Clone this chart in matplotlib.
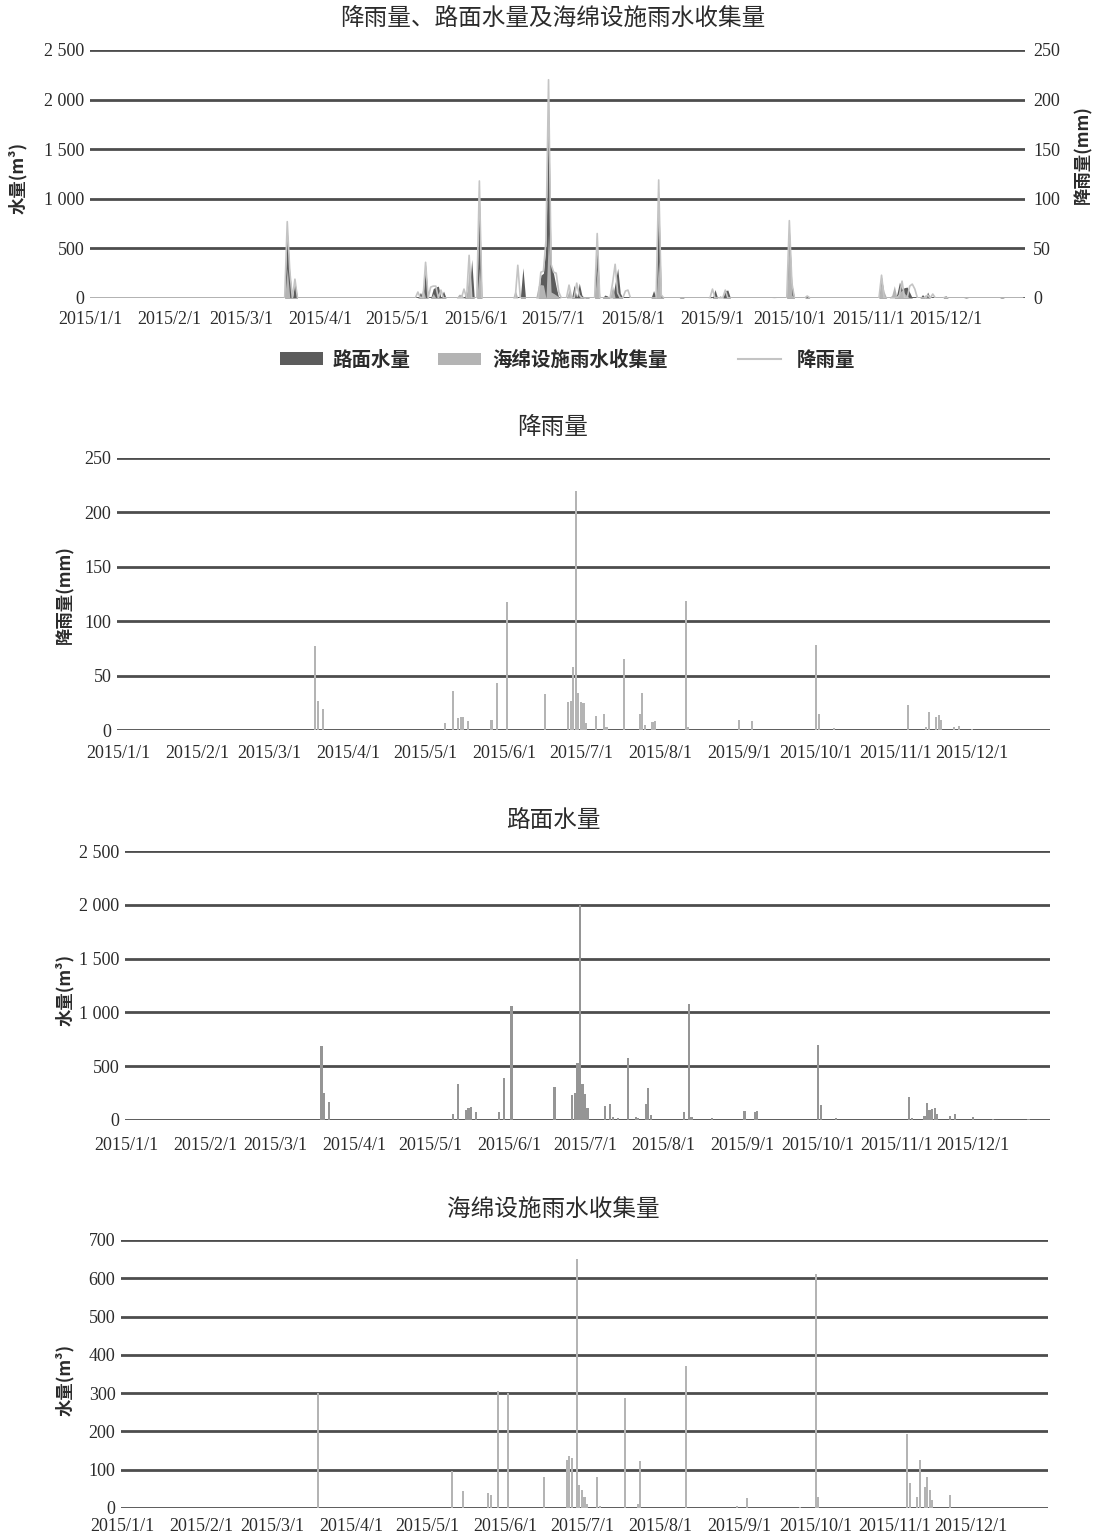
import numpy as np
import pandas as pd
import matplotlib
matplotlib.use('Agg')
import matplotlib.pyplot as plt
from matplotlib.patches import Patch
from matplotlib.lines import Line2D

CJK = ['Noto Sans CJK SC', 'DejaVu Sans']
SERIF = ['Liberation Serif', 'DejaVu Serif']

# ---------------- data ----------------
rain_dates = ['03-19', '03-20', '03-22', '05-09', '05-12', '05-14', '05-15', '05-16', '05-18',
              '05-27', '05-29', '06-02', '06-17', '06-26', '06-27', '06-28', '06-29', '06-30',
              '07-01', '07-02', '07-03', '07-07', '07-10', '07-11', '07-18', '07-24', '07-25',
              '07-26', '07-29', '07-30', '08-11', '08-12', '09-01', '09-06', '10-01', '10-02',
              '10-08', '11-06', '11-13', '11-14', '11-17', '11-18', '11-19', '11-24', '11-26',
              '12-01']
rain_mm = [77, 27, 19, 6, 36, 11, 12, 12, 8,
           9, 43, 118, 33, 26, 27, 58, 220, 34,
           26, 25, 6, 13, 15, 3, 65, 15, 34,
           5, 7, 8, 119, 3, 9, 8, 78, 15,
           2, 23, 3, 17, 12, 14, 9, 3, 4,
           1]

road_dates = ['03-19', '03-20', '03-22', '05-10', '05-12', '05-15', '05-16', '05-17', '05-19',
              '05-28', '05-30', '06-02', '06-19', '06-26', '06-27', '06-28', '06-29', '06-30',
              '07-01', '07-02', '07-09', '07-11', '07-12', '07-14', '07-18', '07-21', '07-22',
              '07-25', '07-26', '07-27', '08-09', '08-11', '08-12', '08-20', '09-02', '09-06',
              '09-07', '10-01', '10-02', '10-08', '11-06', '11-07', '11-12', '11-13', '11-14',
              '11-15', '11-16', '11-17', '11-22', '11-24', '12-01', '12-09', '12-23']
road_m3 = [690, 250, 165, 56, 335, 95, 110, 120, 70,
           70, 390, 1060, 305, 230, 250, 530, 2000, 330,
           240, 110, 130, 150, 30, 15, 580, 30, 20,
           150, 300, 50, 75, 1075, 30, 15, 85, 75,
           80, 700, 140, 20, 210, 20, 40, 160, 90,
           105, 110, 55, 35, 60, 25, 5, 8]

sponge_dates = ['03-19', '05-11', '05-15', '05-25', '05-26', '05-29', '06-02', '06-16', '06-25',
                '06-26', '06-27', '06-29', '06-30', '07-01', '07-02', '07-03', '07-07', '07-08',
                '07-18', '07-23', '07-24', '08-11', '08-31', '09-04', '09-25', '10-01', '10-02',
                '11-06', '11-07', '11-10', '11-11', '11-13', '11-14', '11-15', '11-16', '11-23']
sponge_m3 = [300, 97, 45, 38, 35, 305, 300, 80, 125,
             135, 130, 650, 60, 46, 29, 10, 82, 5,
             288, 10, 123, 370, 5, 25, 2, 610, 29,
             193, 64, 29, 125, 55, 80, 46, 20, 33]

month_labels = [f'2015/{m}/1' for m in range(1, 13)]
vol_ticks = [0, 500, 1000, 1500, 2000, 2500]
vol_ticklabels = ['0', '500', '1 000', '1 500', '2 000', '2 500']
rain_ticks = [0, 50, 100, 150, 200, 250]
sponge_ticks = [0, 100, 200, 300, 400, 500, 600, 700]

# ---------------- helpers ----------------
days = pd.date_range('2015-01-01', '2015-12-31', freq='D')
month_pos = pd.date_range('2015-01-01', periods=12, freq='MS')


def daily(dates, vals):
    s = pd.Series(0.0, index=days)
    s.loc[pd.to_datetime(['2015-' + d for d in dates])] = vals
    return s


rain = daily(rain_dates, rain_mm)
road = daily(road_dates, road_m3)
sponge = daily(sponge_dates, sponge_m3)

GRID = '#4d4d4d'
TXT = '#2b2b2b'
DARK = '#5c5c5c'
LIGHT = '#b4b4b4'
LINEC = '#c4c4c4'
W, H = 1098, 1538


def rect(x0, x1, ytop, ybot):
    return [x0 / W, 1 - ybot / H, (x1 - x0) / W, (ybot - ytop) / H]


def style(ax, ticks, labels, ylim, xlim, xpad):
    ax.set_xlim(*xlim)
    ax.set_ylim(*ylim)
    ax.set_yticks(ticks)
    ax.set_yticklabels(labels, fontfamily=SERIF, fontsize=13, color=TXT)
    ax.set_xticks(month_pos)
    ax.set_xticklabels(month_labels, fontfamily=SERIF, fontsize=13, color=TXT)
    ax.tick_params(length=0, pad=4)
    ax.tick_params(axis='x', pad=xpad)
    for s in ax.spines.values():
        s.set_visible(False)
    ax.set_axisbelow(True)
    ax.yaxis.grid(True, color=GRID, lw=2.0)
    ax.set_facecolor('none')


fig = plt.figure(figsize=(W / 100, H / 100), dpi=100)

xl_area = (pd.Timestamp('2015-01-01'), pd.Timestamp('2016-01-01'))
xl_bar = (pd.Timestamp('2014-12-31 12:00'), pd.Timestamp('2015-12-31 12:00'))

# ---------------- panel 1 ----------------
ax1 = fig.add_axes(rect(90, 1025, 50, 298))
style(ax1, vol_ticks, vol_ticklabels, (0, 2500), xl_area, 9.5)
ax1.fill_between(days, 0, road.values, color=DARK, lw=0)
ax1.fill_between(days, 0, sponge.values, color=LIGHT, lw=0)
ax1b = ax1.twinx()
ax1b.set_xlim(*xl_area)
ax1b.set_ylim(0, 250)
ax1b.set_yticks(rain_ticks)
ax1b.set_yticklabels([str(t) for t in rain_ticks], fontfamily=SERIF, fontsize=13, color=TXT)
ax1b.tick_params(length=0, pad=6)
for s in ax1b.spines.values():
    s.set_visible(False)
ax1b.plot(days, rain.values, color=LINEC, lw=1.2)

fig.text(553 / W, 1 - 18 / H, '降雨量、路面水量及海绵设施雨水收集量', ha='center', va='center',
         fontsize=17, family=CJK, color=TXT)
fig.text(18 / W, 1 - 178 / H, '水量(m³)', rotation=90, ha='center', va='center',
         fontsize=12.5, family=CJK, fontweight='bold', color=TXT)
fig.text(1083 / W, 1 - 155 / H, '降雨量(mm)', rotation=90, ha='center', va='center',
         fontsize=12.5, family=CJK, fontweight='bold', color=TXT)

# legend: three entries placed like the reference
leg_items = [(Patch(facecolor=DARK, edgecolor='none'), '路面水量', 280, 0.5),
             (Patch(facecolor=LIGHT, edgecolor='none'), '海绵设施雨水收集量', 438, 0.6),
             (Line2D([0], [0], color=LINEC, lw=1.5), '降雨量', 738, 0.8)]
for h, lab, x0, tp in leg_items:
    lg = fig.legend([h], [lab], loc='center left', bbox_to_anchor=(x0 / W, 1 - 360 / H),
                    frameon=False, borderpad=0, borderaxespad=0,
                    prop={'family': CJK, 'size': 14, 'weight': 'bold'},
                    handlelength=2.2, handleheight=0.6, handletextpad=tp)
    for t in lg.get_texts():
        t.set_color(TXT)

# ---------------- panel 2 : rainfall ----------------
ax2 = fig.add_axes(rect(117, 1050, 458, 730))
style(ax2, rain_ticks, [str(t) for t in rain_ticks], (0, 250), xl_bar, 11)
ax2.bar(days, rain.values, width=0.8, color=LIGHT, lw=0)
fig.text(553 / W, 1 - 428 / H, '降雨量', ha='center', va='center', fontsize=17, family=CJK, color=TXT)
fig.text(65 / W, 1 - 595 / H, '降雨量(mm)', rotation=90, ha='center', va='center',
         fontsize=12.5, family=CJK, fontweight='bold', color=TXT)

# ---------------- panel 3 : road water ----------------
ax3 = fig.add_axes(rect(125, 1050, 851, 1120))
style(ax3, vol_ticks, vol_ticklabels, (0, 2500), xl_bar, 12)
ax3.bar(days, road.values, width=0.9, color='#959595', lw=0)
fig.text(553 / W, 1 - 820 / H, '路面水量', ha='center', va='center', fontsize=17, family=CJK, color=TXT)
fig.text(65 / W, 1 - 990 / H, '水量(m³)', rotation=90, ha='center', va='center',
         fontsize=12.5, family=CJK, fontweight='bold', color=TXT)

# ---------------- panel 4 : sponge facility ----------------
ax4 = fig.add_axes(rect(121, 1048, 1240, 1508))
style(ax4, sponge_ticks, [str(t) for t in sponge_ticks], (0, 700), xl_bar, 7.5)
ax4.bar(days, sponge.values, width=0.8, color=LIGHT, lw=0)
fig.text(553 / W, 1 - 1210 / H, '海绵设施雨水收集量', ha='center', va='center', fontsize=17,
         family=CJK, color=TXT)
fig.text(65 / W, 1 - 1380 / H, '水量(m³)', rotation=90, ha='center', va='center',
         fontsize=12.5, family=CJK, fontweight='bold', color=TXT)

fig.savefig('out.png', dpi=100, facecolor='white')
